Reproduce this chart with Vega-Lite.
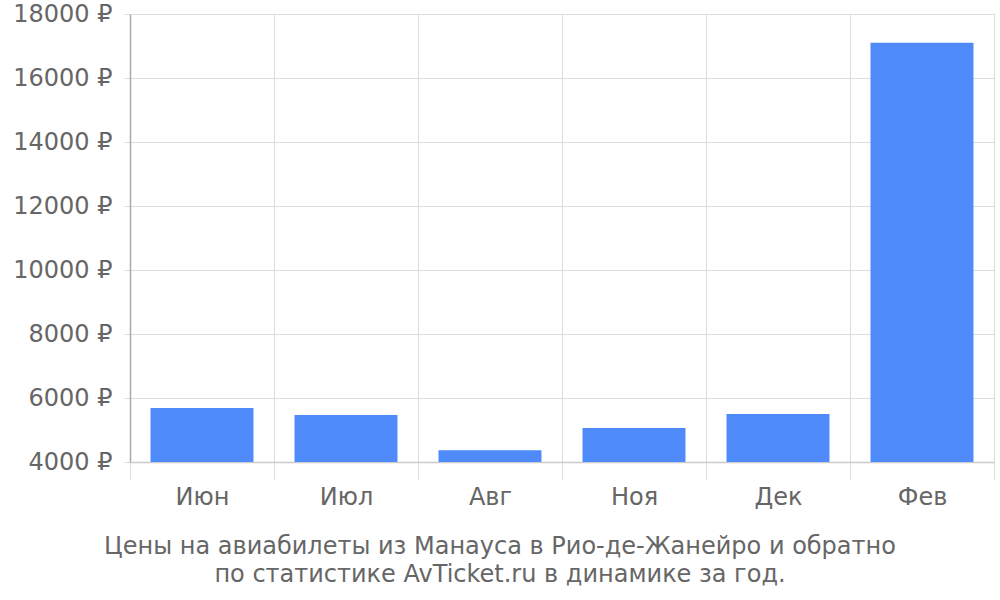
{
  "$schema": "https://vega.github.io/schema/vega-lite/v6.json",
  "width": 864,
  "height": 448,
  "autosize": "none",
  "padding": {"left": 130, "top": 14, "right": 6, "bottom": 138},
  "background": "white",
  "data": {"values": [
    {"month": "Июн", "price": 5690},
    {"month": "Июл", "price": 5470},
    {"month": "Авг", "price": 4370},
    {"month": "Ноя", "price": 5060},
    {"month": "Дек", "price": 5500},
    {"month": "Фев", "price": 17100}
  ]},
  "title": {
    "text": ["Цены на авиабилеты из Манауса в Рио-де-Жанейро и обратно", "по статистике AvTicket.ru в динамике за год."],
    "orient": "bottom",
    "anchor": "middle",
    "dx": -62,
    "offset": 26,
    "font": "DejaVu Sans",
    "fontSize": 24,
    "fontWeight": "normal",
    "color": "#666666",
    "lineHeight": 28
  },
  "mark": {"type": "bar", "color": "#4e8af9", "width": {"band": 0.715}},
  "encoding": {
    "x": {
      "field": "month",
      "type": "nominal",
      "sort": null,
      "scale": {"paddingInner": 0, "paddingOuter": 0},
      "axis": {
        "title": null,
        "labelAngle": 0,
        "labelFont": "DejaVu Sans",
        "labelFontSize": 24,
        "labelColor": "#666666",
        "labelPadding": 5,
        "tickBand": "extent",
        "tickSize": 18,
        "tickColor": "#dddddd",
        "grid": true,
        "gridColor": "#dddddd",
        "domainColor": "#cccccc",
        "domainWidth": 1.5
      }
    },
    "y": {
      "field": "price",
      "type": "quantitative",
      "scale": {"domain": [4000, 18000], "nice": false, "zero": false},
      "axis": {
        "title": null,
        "values": [4000, 6000, 8000, 10000, 12000, 14000, 16000, 18000],
        "labelExpr": "datum.value + ' ₽'",
        "labelFont": "DejaVu Sans",
        "labelFontSize": 24,
        "labelColor": "#666666",
        "labelPadding": 12,
        "tickSize": 6,
        "tickColor": "#dddddd",
        "gridColor": "#dddddd",
        "domainColor": "#aaaaaa",
        "domainWidth": 1.5
      }
    },
    "y2": {"datum": 4000}
  }
}
